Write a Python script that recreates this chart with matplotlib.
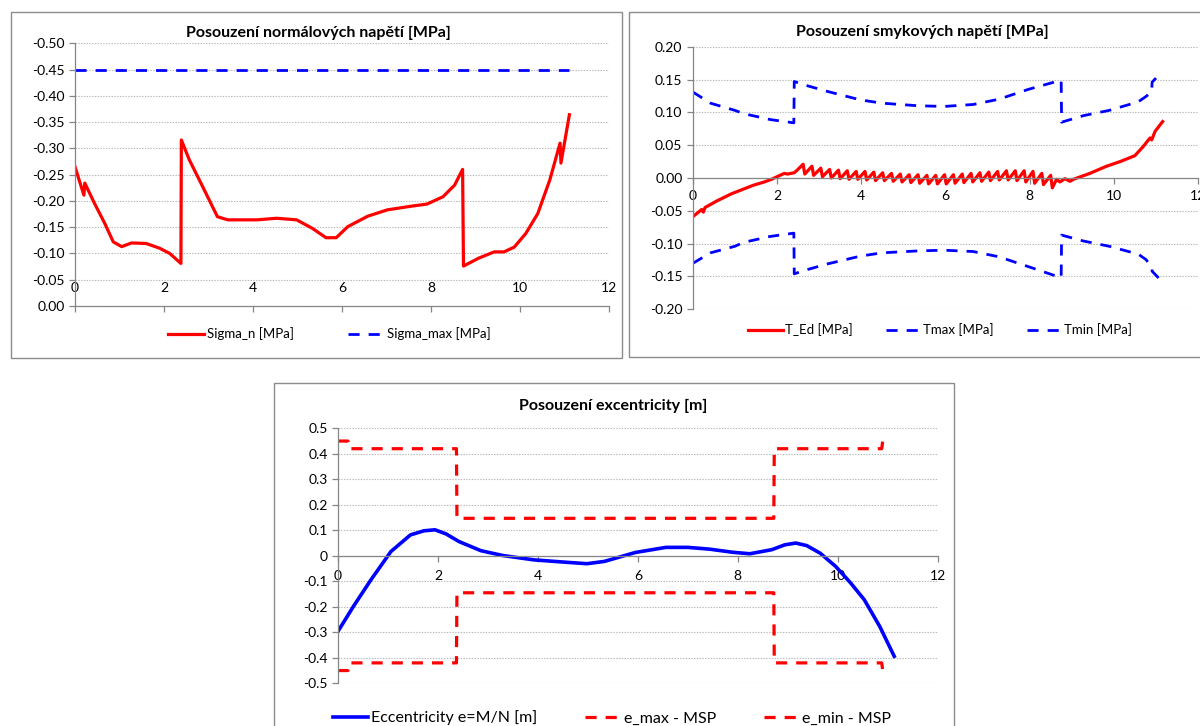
import matplotlib
matplotlib.use('Agg')
import matplotlib.pyplot as plt
from matplotlib.patches import Rectangle
from matplotlib.ticker import FormatStrFormatter, FuncFormatter

plt.rcParams['font.family'] = ['Lato', 'DejaVu Sans']
plt.rcParams['lines.scale_dashes'] = False

# ---------------- data: chart 1 (normal stress) ----------------
sigma_x = [0, 0.2, 0.22, 0.44, 0.67, 0.86, 1.05, 1.27, 1.6, 1.9, 2.13, 2.38, 2.39,
           2.57, 2.87, 3.2, 3.43, 4.09, 4.53, 4.98, 5.33, 5.64, 5.87, 6.13, 6.58,
           7.02, 7.56, 7.91, 8.27, 8.53, 8.71, 8.73, 9.07, 9.42, 9.64, 9.87, 10.13,
           10.4, 10.67, 10.9, 10.92, 11.11]
sigma_n = [-0.265, -0.211, -0.234, -0.195, -0.157, -0.122, -0.113, -0.120, -0.119,
           -0.110, -0.100, -0.081, -0.316, -0.278, -0.227, -0.170, -0.164, -0.164,
           -0.167, -0.164, -0.148, -0.130, -0.130, -0.151, -0.171, -0.183, -0.190,
           -0.194, -0.208, -0.230, -0.260, -0.076, -0.091, -0.103, -0.103, -0.112,
           -0.138, -0.176, -0.240, -0.310, -0.272, -0.364]
sigma_max_x = [0, 11.1]
sigma_max = [-0.45, -0.45]
c1_yticks = [-0.5, -0.45, -0.4, -0.35, -0.3, -0.25, -0.2, -0.15, -0.1, -0.05, 0.0]
c1_xticks = [0, 2, 4, 6, 8, 10, 12]

# ---------------- data: chart 2 (shear stress) ----------------
ted_x = [0, 0.21, 0.25, 0.29, 0.57, 0.92, 1.44, 1.7, 1.87, 2.17, 2.25, 2.41, 2.48,
         2.62, 2.66, 2.83, 2.87, 3.04, 3.08, 3.25, 3.29, 3.46, 3.50, 3.67, 3.71,
         3.88, 3.92, 4.09, 4.13, 4.30, 4.34, 4.51, 4.55, 4.72, 4.76, 4.93, 4.97,
         5.14, 5.18, 5.35, 5.39, 5.56, 5.60, 5.77, 5.81, 5.98, 6.02, 6.19, 6.23,
         6.40, 6.44, 6.61, 6.65, 6.82, 6.86, 7.03, 7.07, 7.24, 7.28, 7.45, 7.49,
         7.66, 7.70, 7.87, 7.91, 8.08, 8.12, 8.29, 8.33, 8.50, 8.54,
         8.64, 8.72, 8.84, 8.96, 9.04, 9.43, 9.83, 10.15, 10.5, 10.7, 10.86,
         10.9, 10.98, 11.16]
ted_y = [-0.059, -0.048, -0.052, -0.045, -0.035, -0.024, -0.011, -0.006, -0.002,
         0.007, 0.006, 0.008, 0.012,
         0.021, 0.006, 0.018, 0.004, 0.015, 0.002, 0.013, 0.000, 0.012, -0.001,
         0.011, -0.002, 0.010, -0.002, 0.010, -0.003, 0.009, -0.004, 0.008, -0.004,
         0.007, -0.005, 0.006, -0.006, 0.005, -0.007, 0.005, -0.008, 0.004, -0.009,
         0.004, -0.009, 0.005, -0.009, 0.005, -0.008, 0.006, -0.007, 0.007, -0.006,
         0.008, -0.005, 0.009, -0.004, 0.010, -0.003, 0.011, -0.003, 0.011, -0.004,
         0.011, -0.006, 0.010, -0.008, 0.007, -0.010, 0.004, -0.015,
         -0.002, -0.006, -0.001, -0.005, -0.002, 0.007, 0.018, 0.025, 0.034, 0.048,
         0.061, 0.058, 0.071, 0.086]
tau_x = [0, 0.42, 1.0, 1.21, 1.84, 2.40, 2.41, 2.64, 3.19, 3.98, 4.49, 5.36, 5.97,
         6.66, 7.27, 7.97, 8.75, 8.76, 9.28, 9.89, 10.58, 10.76, 10.9, 10.91, 11.15]
tmax = [0.131, 0.114, 0.103, 0.098, 0.089, 0.084, 0.147, 0.142, 0.132, 0.119, 0.114,
        0.110, 0.109, 0.112, 0.120, 0.135, 0.149, 0.085, 0.095, 0.103, 0.116, 0.124,
        0.131, 0.146, 0.162]
tmin = [-0.130, -0.114, -0.104, -0.098, -0.089, -0.084, -0.146, -0.141, -0.131,
        -0.119, -0.114, -0.111, -0.110, -0.112, -0.120, -0.135, -0.152, -0.087,
        -0.096, -0.104, -0.116, -0.124, -0.135, -0.142, -0.158]
c2_yticks = [-0.2, -0.15, -0.1, -0.05, 0.0, 0.05, 0.1, 0.15, 0.2]
c2_xticks = [0, 2, 4, 6, 8, 10, 12]

# ---------------- data: chart 3 (eccentricity) ----------------
ecc_x = [0, 0.31, 0.66, 1.06, 1.45, 1.72, 1.94, 2.16, 2.42, 2.86, 3.30, 3.92, 4.54,
         4.98, 5.33, 5.95, 6.56, 7.0, 7.44, 7.89, 8.24, 8.68, 8.94, 9.16, 9.38, 9.65,
         9.96, 10.26, 10.53, 10.84, 11.13]
ecc_y = [-0.296, -0.198, -0.094, 0.017, 0.082, 0.098, 0.102, 0.086, 0.056, 0.020,
         0.001, -0.016, -0.025, -0.031, -0.022, 0.013, 0.033, 0.033, 0.026, 0.014,
         0.008, 0.024, 0.043, 0.050, 0.040, 0.010, -0.042, -0.107, -0.172, -0.277,
         -0.394]
emsp_x = [0, 0.2, 0.22, 2.37, 2.38, 8.72, 8.73, 10.88, 10.9]
emax = [0.45, 0.45, 0.42, 0.42, 0.147, 0.147, 0.42, 0.42, 0.45]
emin = [-0.45, -0.45, -0.42, -0.42, -0.145, -0.145, -0.42, -0.42, -0.45]
c3_yticks = [-0.5, -0.4, -0.3, -0.2, -0.1, 0.0, 0.1, 0.2, 0.3, 0.4, 0.5]
c3_xticks = [0, 2, 4, 6, 8, 10, 12]

# ---------------- figure ----------------
W, H = 1200, 726
fig = plt.figure(figsize=(12, 7.26), dpi=100)
fig.patch.set_facecolor('white')

RED = '#ff0000'
BLUE = '#0000ff'
AXC = '#868686'
DASH = (0, (8, 6.5))
TITLE_FS = 11.5


def ax_px(l, t, r, b):
    return fig.add_axes([l / W, 1 - b / H, (r - l) / W, (b - t) / H])


def box_px(l, t, r, b):
    fig.add_artist(Rectangle((l / W, 1 - b / H), (r - l) / W, (b - t) / H,
                             transform=fig.transFigure, fill=False,
                             ec='#8c8c8c', lw=1.0, zorder=0))


def title_px(x, y, s):
    fig.text(x / W, 1 - y / H, s, fontsize=TITLE_FS, fontweight='bold',
             ha='center', va='center')


def style(ax, fs=10):
    for s in ['top', 'right']:
        ax.spines[s].set_visible(False)
    for s in ['left', 'bottom']:
        ax.spines[s].set_color(AXC)
        ax.spines[s].set_linewidth(0.9)
    ax.tick_params(color=AXC, labelcolor='black', length=4, width=0.9,
                   direction='out', labelsize=fs)
    ax.grid(axis='y', color='#b8b8b8', linestyle=(0, (1, 1)), lw=0.8)
    ax.grid(axis='x', visible=False)
    ax.set_axisbelow(True)
    ax.set_facecolor('none')


# boxes
box_px(11, 12, 622, 358)
box_px(629, 12, 1210, 357)
box_px(273.5, 383, 953.5, 735)

# ---- chart 1
ax1 = ax_px(75, 43.3, 609, 306)
style(ax1)
l1, = ax1.plot(sigma_x, sigma_n, color=RED, lw=2.3, solid_joinstyle='round',
               label='Sigma_n [MPa]')
l2, = ax1.plot(sigma_max_x, sigma_max, color=BLUE, lw=2.0, linestyle=DASH,
               label='Sigma_max [MPa]')
ax1.set_xlim(0, 12)
ax1.set_ylim(0, -0.5)
ax1.set_yticks(c1_yticks)
ax1.set_xticks(c1_xticks)
ax1.yaxis.set_major_formatter(FormatStrFormatter('%.2f'))
ax1.tick_params(axis='x', pad=-21)
title_px(318, 33, 'Posouzení normálových napětí [MPa]')
ax1.legend(handles=[l1, l2], loc='center', bbox_to_anchor=(329 / W, 1 - 334 / H),
           bbox_transform=fig.transFigure, ncol=2, frameon=False, fontsize=9.5,
           handlelength=2.75, handletextpad=0.2, columnspacing=4.1)

# ---- chart 2
ax2 = ax_px(692.8, 46.7, 1198, 309.3)
style(ax2)
m1, = ax2.plot(ted_x, ted_y, color=RED, lw=2.3, solid_joinstyle='round',
               label='T_Ed [MPa]')
m2, = ax2.plot(tau_x, tmax, color=BLUE, lw=2.0, linestyle=DASH, label='Tmax [MPa]')
m3, = ax2.plot(tau_x, tmin, color=BLUE, lw=2.0, linestyle=DASH, label='Tmin [MPa]')
ax2.set_xlim(0, 12)
ax2.set_ylim(-0.2, 0.2)
ax2.set_yticks(c2_yticks)
ax2.set_xticks(c2_xticks)
ax2.yaxis.set_major_formatter(FormatStrFormatter('%.2f'))
ax2.spines['bottom'].set_position(('data', 0))
ax2.tick_params(axis='x', pad=5)
title_px(922, 32, 'Posouzení smykových napětí [MPa]')
ax2.legend(handles=[m1, m2, m3], loc='center', bbox_to_anchor=(940 / W, 1 - 330 / H),
           bbox_transform=fig.transFigure, ncol=3, frameon=False, fontsize=9.5,
           handlelength=2.6, handletextpad=0.2, columnspacing=2.5)

# ---- chart 3
ax3 = ax_px(338, 428.3, 937.7, 683.3)
style(ax3, fs=10)
n1, = ax3.plot(ecc_x, ecc_y, color=BLUE, lw=2.6, solid_joinstyle='round',
               label='Eccentricity e=M/N [m]')
n2, = ax3.plot(emsp_x, emax, color=RED, lw=2.3, linestyle=DASH, label='e_max - MSP')
n3, = ax3.plot(emsp_x, emin, color=RED, lw=2.3, linestyle=DASH, label='e_min - MSP')
ax3.set_xlim(0, 12)
ax3.set_ylim(-0.5, 0.5)
ax3.set_yticks(c3_yticks)
ax3.set_xticks(c3_xticks)
ax3.yaxis.set_major_formatter(FuncFormatter(lambda v, p: '0' if abs(v) < 1e-9 else f'{v:.1f}'))
ax3.spines['bottom'].set_position(('data', 0))
ax3.tick_params(axis='x', pad=6)
title_px(613, 406, 'Posouzení excentricity [m]')
ax3.legend(handles=[n1, n2, n3], loc='center', bbox_to_anchor=(612 / W, 1 - 718 / H),
           bbox_transform=fig.transFigure, ncol=3, frameon=False, fontsize=11.5,
           handlelength=2.2, handletextpad=0.2, columnspacing=3.0)

fig.savefig('out.png', dpi=100)
